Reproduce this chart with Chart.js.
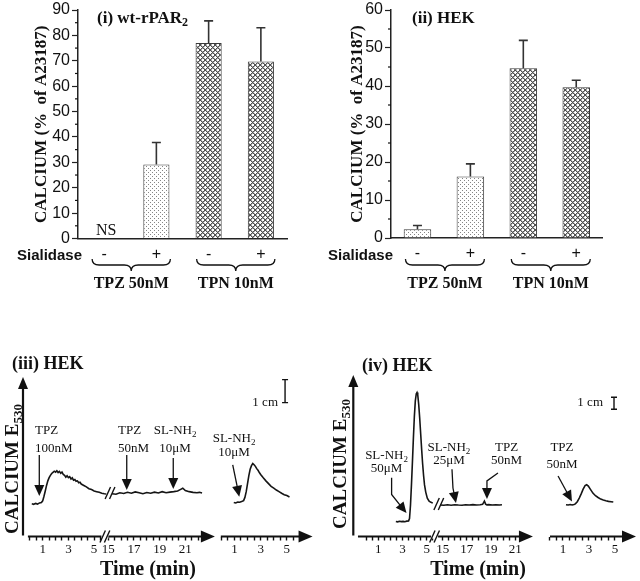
<!DOCTYPE html>
<html>
<head>
<meta charset="utf-8">
<script src="https://cdn.jsdelivr.net/npm/chart.js@4.4.0/dist/chart.umd.min.js"></script>
<style>
  html, body { margin: 0; padding: 0; background: #fff; }
  #wrap { position: relative; width: 640px; height: 581px; overflow: hidden; background: #fff; }
  canvas { position: absolute; }
</style>
</head>
<body>
<div id="wrap">
  <canvas id="barWt" width="320" height="300" style="left:0;top:0"></canvas>
  <canvas id="barHek" width="320" height="300" style="left:320px;top:0"></canvas>
  <canvas id="traceA" width="320" height="241" style="left:0;top:340px"></canvas>
  <canvas id="traceB" width="320" height="241" style="left:320px;top:340px"></canvas>
</div>
<script>
// ---- bar panels: calcium response as % of A23187
const sialidase = ["-", "+", "-", "+"];
const agonists = ["TPZ 50nM", "TPN 10nM"];
const wtMean = [null, 29.1, 77.0, 69.7];
const wtUpper = [null, 37.8, 85.7, 83.0];
const hekMean = [2.3, 16.2, 44.7, 39.7];
const hekUpper = [3.3, 19.5, 52.0, 41.5];
const wtYTicks = [0, 10, 20, 30, 40, 50, 60, 70, 80, 90];
const hekYTicks = [0, 10, 20, 30, 40, 50, 60];

// ---- trace panels: time (min) vs fluorescence (cm of recorder chart)
const timeLabels = [1, 3, 5, 15, 17, 19, 21];
const rightLabels = [1, 3, 5];

// (iii) HEK
const iiiT1 = [0.15, 0.3, 0.45, 0.6, 0.75, 0.9, 1.0, 1.1, 1.2, 1.3, 1.4, 1.5, 1.6, 1.7, 1.8, 1.9,
  2.0, 2.1, 2.2, 2.3, 2.4, 2.5, 2.6, 2.7, 2.8, 2.9, 3.0, 3.1, 3.2, 3.3, 3.4, 3.5, 3.6, 3.7, 3.8, 3.9,
  4.0, 4.2, 4.4, 4.6, 4.8, 5.0, 5.2, 5.4, 5.6, 5.8, 5.95];
const iiiY1 = [1.42, 1.40, 1.44, 1.41, 1.46, 1.48, 1.55, 1.75, 1.98, 2.22, 2.42, 2.56, 2.66, 2.74, 2.79, 2.84,
  2.80, 2.86, 2.78, 2.83, 2.75, 2.80, 2.70, 2.66, 2.58, 2.64, 2.56, 2.60, 2.50, 2.55, 2.45, 2.48, 2.40, 2.42, 2.34, 2.36,
  2.28, 2.22, 2.16, 2.08, 2.04, 1.98, 1.95, 1.92, 1.88, 1.86, 1.85];
const iiiT2 = [15.3, 15.6, 15.9, 16.2, 16.5, 16.8, 17.1, 17.4, 17.7, 18.0, 18.3, 18.6, 18.9, 19.2, 19.5, 19.8,
  20.1, 20.4, 20.6, 20.8, 21.0, 21.3, 21.6, 21.9, 22.1, 22.3];
const iiiY2 = [1.86, 1.84, 1.90, 1.87, 1.92, 1.88, 1.94, 1.90, 1.86, 1.91, 1.88, 1.93, 1.89, 1.95, 1.90, 1.93,
  1.95, 1.98, 2.04, 2.10, 2.00, 1.95, 1.92, 1.90, 1.92, 1.89];
const iiiTR = [0.95, 1.1, 1.25, 1.4, 1.55, 1.7, 1.8, 1.9, 2.0, 2.1, 2.2, 2.3, 2.4, 2.5, 2.6, 2.7, 2.8, 2.9,
  3.0, 3.2, 3.4, 3.6, 3.8, 4.0, 4.2, 4.4, 4.6, 4.8, 5.0, 5.2];
const iiiYR = [1.48, 1.46, 1.50, 1.49, 1.52, 1.56, 1.70, 1.95, 2.30, 2.65, 2.92, 3.08, 3.17, 3.12, 3.05, 2.95, 2.88, 2.78,
  2.70, 2.55, 2.42, 2.30, 2.18, 2.10, 2.02, 1.95, 1.88, 1.82, 1.78, 1.72];

// (iv) HEK
const ivT1 = [2.45, 2.6, 2.75, 2.9, 3.05, 3.2, 3.35, 3.5, 3.58, 3.66, 3.74, 3.82, 3.9, 3.98, 4.06, 4.14,
  4.2, 4.26, 4.34, 4.42, 4.5, 4.58, 4.66, 4.74, 4.82, 4.92, 5.05, 5.2, 5.35, 5.5];
const ivY1 = [1.25, 1.22, 1.27, 1.24, 1.26, 1.23, 1.28, 1.30, 1.5, 2.6, 4.3, 6.2, 8.2, 10.0, 11.3, 11.9,
  12.0, 11.8, 11.0, 9.9, 8.6, 7.3, 6.1, 5.1, 4.3, 3.7, 3.2, 2.95, 2.85, 2.8];
const ivT2 = [14.8, 15.1, 15.4, 15.7, 16.0, 16.3, 16.6, 16.9, 17.2, 17.5, 17.8, 18.1, 18.3, 18.45, 18.55, 18.65,
  18.8, 19.1, 19.4, 19.7, 19.9];
const ivY2 = [2.62, 2.60, 2.64, 2.61, 2.65, 2.62, 2.60, 2.64, 2.62, 2.66, 2.63, 2.65, 2.68, 2.95, 2.70, 2.64,
  2.66, 2.62, 2.65, 2.63, 2.64];
const ivTR = [1.23, 1.4, 1.55, 1.7, 1.85, 1.95, 2.1, 2.25, 2.4, 2.55, 2.7, 2.82, 2.95, 3.1, 3.3, 3.5, 3.7, 3.9,
  4.1, 4.3, 4.5, 4.7, 4.87];
const ivYR = [2.64, 2.62, 2.66, 2.63, 2.67, 2.72, 2.90, 3.20, 3.55, 3.95, 4.25, 4.31, 4.20, 3.95, 3.62, 3.40, 3.25, 3.12,
  3.04, 2.98, 2.93, 2.90, 2.87];

const ink = "#111";
const SERIF = "'Liberation Serif', 'Times New Roman', serif";
const SANS = "'Liberation Sans', Arial, sans-serif";

// text with an optional subscript after "_"
function richText(ctx, str, x, cy, size, weight, family, align) {
  const parts = str.split("_");
  const main = parts[0], sub = parts[1] || "";
  const subSize = Math.round(size * 0.68);
  ctx.font = `${weight} ${size}px ${family}`;
  const w1 = ctx.measureText(main).width;
  ctx.font = `${weight} ${subSize}px ${family}`;
  const w2 = sub ? ctx.measureText(sub).width : 0;
  const total = w1 + w2;
  const x0 = align === "center" ? x - total / 2 : align === "right" ? x - total : x;
  const base = cy + size * 0.33;
  ctx.textAlign = "left";
  ctx.textBaseline = "alphabetic";
  ctx.font = `${weight} ${size}px ${family}`;
  ctx.fillText(main, x0, base);
  if (sub) {
    ctx.font = `${weight} ${subSize}px ${family}`;
    ctx.fillText(sub, x0 + w1, base + size * 0.22);
  }
}

function arrow(ctx, pts, len, half, lw) {
  const n = pts.length;
  const [tx, ty] = pts[n - 1];
  const [px, py] = pts[n - 2];
  const d = Math.hypot(tx - px, ty - py);
  const ux = (tx - px) / d, uy = (ty - py) / d;
  const bx = tx - ux * len, by = ty - uy * len;
  ctx.lineWidth = lw;
  ctx.beginPath();
  ctx.moveTo(pts[0][0], pts[0][1]);
  for (let i = 1; i < n - 1; i++) ctx.lineTo(pts[i][0], pts[i][1]);
  ctx.lineTo(bx + ux, by + uy);
  ctx.stroke();
  ctx.beginPath();
  ctx.moveTo(tx, ty);
  ctx.lineTo(bx - uy * half, by + ux * half);
  ctx.lineTo(bx + uy * half, by - ux * half);
  ctx.closePath();
  ctx.fill();
}

function slashes(ctx, cx, cy, h, clear) {
  if (clear) {
    ctx.fillStyle = "#fff";
    ctx.fillRect(cx - 3.5, cy - 2, 7, 4);
    ctx.fillStyle = ink;
  }
  ctx.lineWidth = 1.4;
  for (const dx of [-2.2, 2.2]) {
    ctx.beginPath();
    ctx.moveTo(cx + dx - h * 0.45, cy + h);
    ctx.lineTo(cx + dx + h * 0.45, cy - h);
    ctx.stroke();
  }
}

function brace(ctx, x1, x2, y, h) {
  const mid = (x1 + x2) / 2, r = 7;
  ctx.lineWidth = 1.3;
  ctx.beginPath();
  ctx.moveTo(x1, y);
  ctx.quadraticCurveTo(x1, y + h / 2, x1 + r, y + h / 2);
  ctx.lineTo(mid - r, y + h / 2);
  ctx.quadraticCurveTo(mid, y + h / 2, mid, y + h);
  ctx.quadraticCurveTo(mid, y + h / 2, mid + r, y + h / 2);
  ctx.lineTo(x2 - r, y + h / 2);
  ctx.quadraticCurveTo(x2, y + h / 2, x2, y);
  ctx.stroke();
}

function makePattern(size, paint) {
  const c = document.createElement("canvas");
  c.width = size; c.height = size;
  const g = c.getContext("2d");
  g.fillStyle = "#fff";
  g.fillRect(0, 0, size, size);
  paint(g, size);
  return g.createPattern(c, "repeat");
}
const dots = makePattern(4, (g) => {
  g.fillStyle = "#858585";
  g.fillRect(0, 0, 1, 1);
  g.fillRect(2, 2, 1, 1);
});
const hatch = makePattern(5, (g, s) => {
  for (let i = 0; i < s; i++) {
    g.fillStyle = "#a8a8a8";
    g.fillRect((i + 1) % s, i, 1, 1);
    g.fillRect((s - i) % s, i, 1, 1);
  }
  g.fillStyle = "#505050";
  for (let i = 0; i < s; i++) {
    g.fillRect(i, i, 1, 1);
    g.fillRect(s - 1 - i, i, 1, 1);
  }
});

// ---------- bar panels
function barExtras(p) {
  return {
    id: "barExtras",
    afterDatasetsDraw(chart) {
      const { ctx, chartArea: a, scales: { x, y } } = chart;
      ctx.save();
      ctx.strokeStyle = ink;
      ctx.fillStyle = ink;

      // minor ticks between the labelled ones
      ctx.lineWidth = 1.2;
      for (let i = 0; i < p.yTicks.length - 1; i++) {
        const py = y.getPixelForValue((p.yTicks[i] + p.yTicks[i + 1]) / 2);
        ctx.beginPath();
        ctx.moveTo(a.left - 3, py);
        ctx.lineTo(a.left, py);
        ctx.stroke();
      }

      // upper error bars
      ctx.strokeStyle = "#333";
      ctx.lineWidth = 1.6;
      p.mean.forEach((m, i) => {
        if (m == null || p.upper[i] == null) return;
        const bx = x.getPixelForValue(i);
        const top = y.getPixelForValue(m);
        const e = y.getPixelForValue(p.upper[i]);
        ctx.beginPath();
        ctx.moveTo(bx, top);
        ctx.lineTo(bx, e);
        ctx.moveTo(bx - 4.5, e);
        ctx.lineTo(bx + 4.5, e);
        ctx.stroke();
      });
      ctx.strokeStyle = ink;

      if (p.ns) {
        richText(ctx, "NS", x.getPixelForValue(0) + 2, y.getPixelForValue(0) - 9, 16, "normal", SERIF, "center");
      }
      richText(ctx, p.title, p.titleX, 17, 17, "bold", SERIF, "left");
      richText(ctx, "Sialidase", a.left + p.sialX, 255, 15, "bold", SANS, "right");

      agonists.forEach((label, g) => {
        const c0 = x.getPixelForValue(2 * g), c1 = x.getPixelForValue(2 * g + 1);
        brace(ctx, c0 - 12, c1 + 14, 259, 12);
        richText(ctx, label, (c0 + c1) / 2 + 1, 283, 16, "bold", SERIF, "center");
      });
      ctx.restore();
    }
  };
}

function barChart(id, p) {
  new Chart(document.getElementById(id), {
    type: "bar",
    data: {
      labels: sialidase,
      datasets: [{
        data: p.mean,
        backgroundColor: [dots, dots, hatch, hatch],
        borderColor: "#3a3a3a",
        borderWidth: 1,
        barPercentage: p.barPct,
        categoryPercentage: 1
      }]
    },
    options: {
      responsive: false,
      animation: false,
      events: [],
      layout: { padding: { left: 0, right: p.padRight, top: p.padTop, bottom: 0 } },
      plugins: { legend: { display: false }, tooltip: { enabled: false } },
      scales: {
        x: {
          grid: { display: false, drawTicks: false },
          border: { display: true, color: "#222", width: 1.5 },
          ticks: { color: ink, padding: 6, font: { family: SANS, size: 16 } },
          afterFit: (s) => { s.height = p.xHeight; }
        },
        y: {
          min: 0,
          max: p.yTicks[p.yTicks.length - 1],
          afterBuildTicks: (s) => { s.ticks = p.yTicks.map((v) => ({ value: v })); },
          afterFit: (s) => { s.width = p.yWidth; },
          grid: { drawOnChartArea: false, tickLength: 6, tickColor: "#222", tickWidth: 1.2 },
          border: { color: "#222", width: 1.5 },
          ticks: { color: ink, padding: 2, font: { family: SANS, size: 16, lineHeight: 1 } },
          title: {
            display: true,
            text: "CALCIUM (%  of A23187)",
            color: ink,
            font: { family: SERIF, size: 17, weight: "bold" },
            padding: { top: p.titlePad, bottom: 0 }
          }
        }
      }
    },
    plugins: [barExtras(p)]
  });
}

barChart("barWt", {
  mean: wtMean, upper: wtUpper, yTicks: wtYTicks, ns: true,
  title: "(i) wt-rPAR_2", titleX: 97, sialX: 4,
  yWidth: 78, padRight: 33, padTop: 8, xHeight: 61.5, titlePad: 31, barPct: 0.5
});
barChart("barHek", {
  mean: hekMean, upper: hekUpper, yTicks: hekYTicks, ns: false,
  title: "(ii) HEK", titleX: 92, sialX: 2,
  yWidth: 71, padRight: 37.3, padTop: 8.3, xHeight: 62, titlePad: 27, barPct: 0.52
});

// ---------- trace panels
function traceExtras(p) {
  return {
    id: "traceExtras",
    afterDatasetsDraw(chart) {
      const { ctx, chartArea: a, scales: { x, y } } = chart;
      const P = (pos) => x.getPixelForValue(pos);
      const X = (seg, t) => P(p.segs[seg].off + t * p.segs[seg].k);
      const Y = (v) => y.getPixelForValue(v);
      ctx.save();
      ctx.strokeStyle = ink;
      ctx.fillStyle = ink;
      ctx.lineCap = "butt";

      // axes with arrow heads
      arrow(ctx, [[a.left, a.bottom - 1], [a.left, a.top]], 12, 5, 2.2);
      p.axes.forEach(([p0, p1]) => arrow(ctx, [[P(p0), a.bottom], [P(p1), a.bottom]], 14, 6, 2.2));
      slashes(ctx, P(p.axisBreak), a.bottom, 6, true);
      slashes(ctx, P(p.traceBreak[0]), Y(p.traceBreak[1]), 6, false);

      // 1 cm scale bar
      const sb = p.scaleBar, sx = P(sb.pos);
      ctx.lineWidth = 1.4;
      ctx.beginPath();
      ctx.moveTo(sx, Y(sb.y0)); ctx.lineTo(sx, Y(sb.y1));
      ctx.moveTo(sx - 3, Y(sb.y0)); ctx.lineTo(sx + 3, Y(sb.y0));
      ctx.moveTo(sx - 3, Y(sb.y1)); ctx.lineTo(sx + 3, Y(sb.y1));
      ctx.stroke();
      richText(ctx, "1 cm", P(sb.textPos), Y(sb.textY), 13, "normal", SERIF, "right");

      // agonist additions
      p.notes.forEach((n) => {
        n.lines.forEach((txt, j) => richText(ctx, txt, X(n.seg, n.at), Y(n.ly[j]), 13, "normal", SERIF, n.align));
        arrow(ctx, n.arrow.map(([t, v]) => [X(n.seg, t), Y(v)]), 11, 5, 1.3);
      });

      // titles
      richText(ctx, p.title, p.titleX, p.titleY, 18, "bold", SERIF, "left");
      richText(ctx, "Time (min)", P(p.xTitlePos), 228, 20, "bold", SERIF, "center");
      ctx.translate(p.yTitleX, p.yTitleY);
      ctx.rotate(-Math.PI / 2);
      richText(ctx, "CALCIUM E_530", 0, 0, 19, "bold", SERIF, "center");
      ctx.restore();
    }
  };
}

function traceChart(id, p) {
  const tickVals = [], tickLabs = [];
  p.segs.forEach((s) => {
    for (let t = s.ticks[0]; t <= s.ticks[1]; t += 0.5) {
      tickVals.push(s.off + t * s.k);
      tickLabs.push(s.labels.includes(t) ? String(t) : "");
    }
  });
  new Chart(document.getElementById(id), {
    type: "line",
    data: {
      datasets: p.segs.map((s) => ({
        data: s.t.map((t, i) => ({ x: s.off + t * s.k, y: s.y[i] })),
        borderColor: "#151515",
        borderWidth: 1.6,
        pointRadius: 0,
        tension: 0,
        fill: false
      }))
    },
    options: {
      responsive: false,
      animation: false,
      events: [],
      layout: { padding: { left: p.pad.left, right: p.pad.right, top: p.pad.top, bottom: 0 } },
      plugins: { legend: { display: false }, tooltip: { enabled: false } },
      scales: {
        x: {
          type: "linear",
          min: p.xMin,
          max: p.xMax,
          afterBuildTicks: (s) => { s.ticks = tickVals.map((v) => ({ value: v })); },
          afterFit: (s) => { s.height = p.xHeight; },
          ticks: {
            autoSkip: false, maxRotation: 0, padding: 1, color: ink,
            font: { family: SERIF, size: 13 },
            callback: (v, i) => tickLabs[i]
          },
          grid: { drawOnChartArea: false, drawTicks: true, tickLength: 4, tickWidth: 1.4, tickColor: ink },
          border: { display: false }
        },
        y: { display: false, min: 0, max: p.yMax }
      }
    },
    plugins: [traceExtras(p)]
  });
}

traceChart("traceA", {
  title: "(iii) HEK", titleX: 12, titleY: 23, yTitleX: 12, yTitleY: 129,
  pad: { left: 23, right: 5, top: 37 }, xHeight: 44.5,
  xMin: -0.533, xMax: 22.19, yMax: 6.935,
  segs: [
    { t: iiiT1, y: iiiY1, off: 0, k: 1, ticks: [0, 5.5], labels: timeLabels },
    { t: iiiT2, y: iiiY2, off: -8.9, k: 1, ticks: [15, 22], labels: timeLabels },
    { t: iiiTR, y: iiiYR, off: 14.9, k: 1.02, ticks: [0, 5.5], labels: rightLabels }
  ],
  axes: [[-0.15, 14.4], [14.86, 22.0]],
  axisBreak: 5.84, traceBreak: [6.24, 1.89],
  scaleBar: { pos: 19.86, y0: 5.82, y1: 6.82, textPos: 19.31, textY: 5.86 },
  xTitlePos: 9.19,
  notes: [
    { seg: 0, at: 0.4, align: "left", lines: ["TPZ", "100nM"], ly: [4.63, 3.85], arrow: [[0.735, 3.54], [0.735, 1.76]] },
    { seg: 1, at: 15.76, align: "left", lines: ["TPZ", "50nM"], ly: [4.63, 3.85], arrow: [[16.44, 3.54], [16.44, 2.02]] },
    { seg: 1, at: 20.2, align: "center", lines: ["SL-NH_2", "10μM"], ly: [4.63, 3.85], arrow: [[20.06, 3.41], [20.06, 2.07]] },
    { seg: 2, at: 0.97, align: "center", lines: ["SL-NH_2", "10μM"], ly: [4.28, 3.67], arrow: [[0.87, 3.11], [1.37, 1.73]] }
  ]
});

traceChart("traceB", {
  title: "(iv) HEK", titleX: 42, titleY: 25, yTitleX: 20, yTitleY: 124,
  pad: { left: 33.3, right: 2, top: 35 }, xHeight: 44.5,
  xMin: -1.066, xMax: 22.463, yMax: 13.46,
  segs: [
    { t: ivT1, y: ivY1, off: 0, k: 1, ticks: [0, 5.5], labels: timeLabels },
    { t: ivT2, y: ivY2, off: -8.68, k: 1, ticks: [15, 21], labels: timeLabels },
    { t: ivTR, y: ivYR, off: 15.19, k: 1.074, ticks: [0, 5], labels: rightLabels }
  ],
  axes: [[-0.68, 13.78], [15.19, 22.3]],
  axisBreak: 5.65, traceBreak: [6.0, 2.71],
  scaleBar: { pos: 20.48, y0: 10.6, y1: 11.6, textPos: 19.57, textY: 11.23 },
  xTitlePos: 9.24,
  notes: [
    { seg: 0, at: 1.68, align: "center", lines: ["SL-NH_2", "50μM"], ly: [6.79, 5.71], arrow: [[2.1, 4.9], [2.1, 3.5], [3.33, 1.95]] },
    { seg: 1, at: 15.52, align: "center", lines: ["SL-NH_2", "25μM"], ly: [7.48, 6.43], arrow: [[15.77, 5.6], [15.85, 4.04], [16.1, 2.79]] },
    { seg: 1, at: 20.28, align: "center", lines: ["TPZ", "50nM"], ly: [7.48, 6.43], arrow: [[19.57, 5.29], [18.66, 4.63], [18.66, 3.125]] },
    { seg: 2, at: 0.92, align: "center", lines: ["TPZ", "50nM"], ly: [7.48, 6.1], arrow: [[0.62, 5.04], [1.69, 2.92]] }
  ]
});
</script>
</body>
</html>
